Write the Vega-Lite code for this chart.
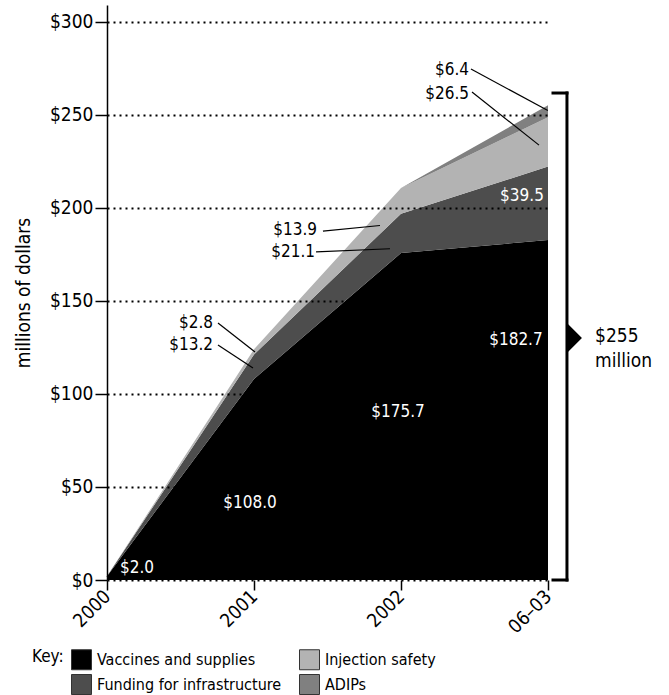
{
  "$schema": "https://vega.github.io/schema/vega-lite/v6.json",
  "width": 441,
  "height": 575,
  "autosize": {"type": "none"},
  "padding": {"left": 107, "top": 5, "right": 121, "bottom": 115},
  "background": "white",
  "config": {
    "font": "DejaVu Sans Condensed, Liberation Sans Narrow, sans-serif",
    "view": {"stroke": null},
    "text": {"font": "DejaVu Sans Condensed, Liberation Sans Narrow, sans-serif"}
  },
  "datasets": {
    "spending": [
      {"t": 0, "category": "Vaccines and supplies", "rank": 1, "value": 2.0},
      {"t": 1, "category": "Vaccines and supplies", "rank": 1, "value": 108.0},
      {"t": 2, "category": "Vaccines and supplies", "rank": 1, "value": 175.7},
      {"t": 3, "category": "Vaccines and supplies", "rank": 1, "value": 182.7},
      {"t": 0, "category": "Funding for infrastructure", "rank": 2, "value": 0},
      {"t": 1, "category": "Funding for infrastructure", "rank": 2, "value": 13.2},
      {"t": 2, "category": "Funding for infrastructure", "rank": 2, "value": 21.1},
      {"t": 3, "category": "Funding for infrastructure", "rank": 2, "value": 39.5},
      {"t": 0, "category": "Injection safety", "rank": 3, "value": 0},
      {"t": 1, "category": "Injection safety", "rank": 3, "value": 2.8},
      {"t": 2, "category": "Injection safety", "rank": 3, "value": 13.9},
      {"t": 3, "category": "Injection safety", "rank": 3, "value": 26.5},
      {"t": 0, "category": "ADIPs", "rank": 4, "value": 0},
      {"t": 1, "category": "ADIPs", "rank": 4, "value": 0},
      {"t": 2, "category": "ADIPs", "rank": 4, "value": 0},
      {"t": 3, "category": "ADIPs", "rank": 4, "value": 6.4}
    ],
    "callouts": [
      {"label": "$6.4", "tx": 2.463, "ty": 274.1, "x1": 2.476, "y1": 274.6, "x2": 2.999, "y2": 252.3},
      {"label": "$26.5", "tx": 2.463, "ty": 261.2, "x1": 2.483, "y1": 262.2, "x2": 2.939, "y2": 233.7},
      {"label": "$13.9", "tx": 1.429, "ty": 188.1, "x1": 1.469, "y1": 187.5, "x2": 1.857, "y2": 190.5},
      {"label": "$21.1", "tx": 1.415, "ty": 176.3, "x1": 1.422, "y1": 176.3, "x2": 1.925, "y2": 178.0},
      {"label": "$2.8", "tx": 0.721, "ty": 138.1, "x1": 0.755, "y1": 138.1, "x2": 1.007, "y2": 122.5},
      {"label": "$13.2", "tx": 0.721, "ty": 126.3, "x1": 0.755, "y1": 126.3, "x2": 0.993, "y2": 113.9}
    ],
    "inside": [
      {"label": "$2.0", "tx": 0.204, "ty": 6.4},
      {"label": "$108.0", "tx": 0.973, "ty": 41.4},
      {"label": "$175.7", "tx": 1.98, "ty": 90.3},
      {"label": "$182.7", "tx": 2.782, "ty": 129.0},
      {"label": "$39.5", "tx": 2.823, "ty": 206.4}
    ],
    "bracket": [
      {"x1": 3.129, "y1": 0, "x2": 3.129, "y2": 261.7},
      {"x1": 3.034, "y1": 261.7, "x2": 3.129, "y2": 261.7},
      {"x1": 3.034, "y1": 0, "x2": 3.129, "y2": 0}
    ],
    "total": [
      {"x": 3.129, "y": 130.0, "tx": 3.32, "ty": 131.0, "label": "$255\nmillion"}
    ]
  },
  "layer": [
    {
      "data": {"name": "spending"},
      "mark": {"type": "area", "interpolate": "linear"},
      "encoding": {
        "x": {
          "field": "t",
          "type": "quantitative",
          "scale": {"domain": [0, 3], "nice": false, "zero": false},
          "axis": {
            "values": [0, 1, 2, 3],
            "labelExpr": "['2000','2001','2002','06–03'][datum.value]",
            "labelAngle": -45,
            "labelAlign": "right",
            "labelBaseline": "middle",
            "labelFontSize": 19,
            "labelColor": "black",
            "labelPadding": 3,
            "tickSize": 10,
            "tickColor": "black",
            "tickWidth": 1.5,
            "domain": false,
            "grid": false,
            "title": null
          }
        },
        "y": {
          "field": "value",
          "type": "quantitative",
          "stack": "zero",
          "scale": {"domain": [0, 309], "nice": false},
          "axis": {
            "values": [0, 50, 100, 150, 200, 250, 300],
            "labelExpr": "'$' + datum.value",
            "labelFontSize": 19,
            "labelColor": "black",
            "labelPadding": 2,
            "tickSize": 12,
            "tickColor": "black",
            "tickWidth": 1.5,
            "domainColor": "black",
            "domainWidth": 1.5,
            "grid": true,
            "gridColor": "black",
            "gridDash": [2, 4],
            "gridWidth": 2,
            "zindex": 1,
            "title": "millions of dollars",
            "titleFontSize": 19,
            "titleFontWeight": "normal",
            "titleColor": "black",
            "titlePadding": 16
          }
        },
        "color": {
          "field": "category",
          "type": "nominal",
          "scale": {
            "domain": ["Vaccines and supplies", "Injection safety", "Funding for infrastructure", "ADIPs"],
            "range": ["#000000", "#b3b3b3", "#4d4d4d", "#808080"]
          },
          "legend": {
            "orient": "none",
            "legendX": -75,
            "legendY": 644,
            "direction": "horizontal",
            "columns": 2,
            "padding": 0,
            "title": "Key:",
            "titleOrient": "left",
            "titleAnchor": "start",
            "titleBaseline": "top",
            "titleFontSize": 17,
            "titleFontWeight": "normal",
            "titleColor": "black",
            "titlePadding": 7,
            "labelFontSize": 16,
            "labelColor": "black",
            "labelLimit": 300,
            "labelOffset": 5,
            "symbolType": "square",
            "symbolSize": 400,
            "symbolStrokeColor": "#333333",
            "symbolStrokeWidth": 1,
            "symbolOpacity": 1,
            "columnPadding": 15,
            "rowPadding": 0
          }
        },
        "order": {"field": "rank", "type": "quantitative"}
      }
    },
    {
      "data": {"name": "callouts"},
      "mark": {"type": "rule", "color": "black", "strokeWidth": 1.2},
      "encoding": {
        "x": {"field": "x1", "type": "quantitative"},
        "y": {"field": "y1", "type": "quantitative"},
        "x2": {"field": "x2"},
        "y2": {"field": "y2"}
      }
    },
    {
      "data": {"name": "callouts"},
      "mark": {"type": "text", "align": "right", "baseline": "middle", "fontSize": 17, "color": "black"},
      "encoding": {
        "x": {"field": "tx", "type": "quantitative"},
        "y": {"field": "ty", "type": "quantitative"},
        "text": {"field": "label"}
      }
    },
    {
      "data": {"name": "inside"},
      "mark": {"type": "text", "align": "center", "baseline": "middle", "fontSize": 17, "color": "white"},
      "encoding": {
        "x": {"field": "tx", "type": "quantitative"},
        "y": {"field": "ty", "type": "quantitative"},
        "text": {"field": "label"}
      }
    },
    {
      "data": {"name": "bracket"},
      "mark": {"type": "rule", "color": "black", "strokeWidth": 3, "strokeCap": "square"},
      "encoding": {
        "x": {"field": "x1", "type": "quantitative"},
        "y": {"field": "y1", "type": "quantitative"},
        "x2": {"field": "x2"},
        "y2": {"field": "y2"}
      }
    },
    {
      "data": {"name": "total"},
      "mark": {"type": "point", "shape": "M0,-1L1,0L0,1Z", "size": 900, "filled": true, "color": "black", "opacity": 1},
      "encoding": {
        "x": {"field": "x", "type": "quantitative"},
        "y": {"field": "y", "type": "quantitative"}
      }
    },
    {
      "data": {"name": "total"},
      "mark": {"type": "text", "align": "left", "baseline": "middle", "fontSize": 19, "lineHeight": 25, "lineBreak": "\n", "color": "black"},
      "encoding": {
        "x": {"field": "tx", "type": "quantitative"},
        "y": {"field": "ty", "type": "quantitative"},
        "text": {"field": "label"}
      }
    }
  ]
}
